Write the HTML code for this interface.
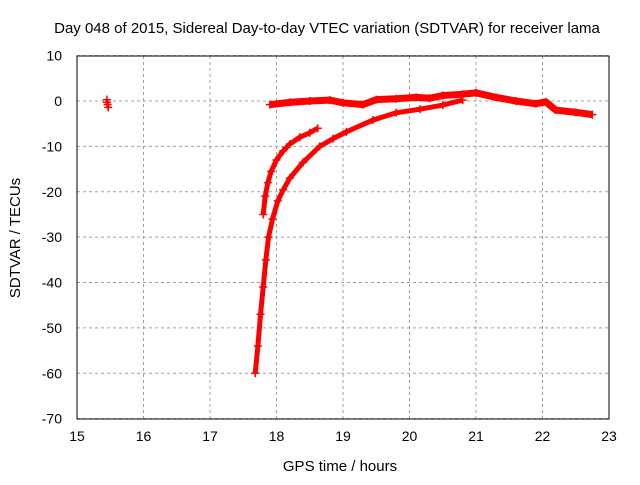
<!DOCTYPE html>
<html><head><meta charset="utf-8"><style>
body{margin:0;background:#fff}
svg{font-family:"Liberation Sans",sans-serif}
</style></head><body>
<svg id="chart" width="640" height="480" xmlns="http://www.w3.org/2000/svg">
<rect width="640" height="480" fill="#fff"/>
<text x="327" y="33" font-size="15" text-anchor="middle">Day 048 of 2015, Sidereal Day-to-day VTEC variation (SDTVAR) for receiver lama</text>
<text x="340" y="471" font-size="15" text-anchor="middle">GPS time / hours</text>
<text transform="translate(20,238) rotate(-90)" font-size="15" text-anchor="middle">SDTVAR / TECUs</text>
<g id="grid"></g><g id="ticks"></g><g id="marks"></g>
<rect x="77" y="56" width="532" height="363" fill="none" stroke="#000" stroke-width="1"/>
</svg>
<script>
const xTicks=[15,16,17,18,19,20,21,22,23];
const yTicks=[10,0,-10,-20,-30,-40,-50,-60,-70];
const trackAx=[17.8,17.83,17.87,17.92,18.0,18.1,18.2,18.35,18.5,18.62];
const trackAy=[-25,-21,-18,-15.5,-13,-11,-9.5,-8,-7,-6];
const trackBx=[17.68,17.72,17.76,17.8,17.84,17.88,17.94,18.02,18.1,18.2,18.4,18.65,18.85,19.05,19.45,19.8,20.16,20.5,20.8];
const trackBy=[-60,-54,-47,-41,-35,-30,-26,-22,-19.6,-17,-13.5,-10,-8.3,-6.8,-4.2,-2.6,-1.8,-0.9,0.2];
const trackCx=[17.9,18.2,18.5,18.8,19.0,19.3,19.5,19.8,20.1,20.3,20.5,20.8,21.0,21.3,21.6,21.9,22.05,22.2,22.5,22.75];
const trackCy=[-0.8,-0.3,0,0.2,-0.4,-0.8,0.3,0.5,0.8,0.6,1.2,1.5,1.8,0.8,0,-0.6,-0.2,-2,-2.5,-3];
const trackDx=[15.45,15.45,15.46,15.47];
const trackDy=[0.3,-0.3,-0.8,-1.4];
const X=v=>77+(v-15)*66.5, Y=v=>101-v*4.5375;
const NS='http://www.w3.org/2000/svg';
const mk=(t,a,p)=>{const e=document.createElementNS(NS,t);for(const k in a)e.setAttribute(k,a[k]);p.appendChild(e);return e;};
const g=document.getElementById('grid'),tk=document.getElementById('ticks'),m=document.getElementById('marks');
xTicks.forEach(v=>{
 const l=mk('line',{x1:X(v),x2:X(v),y1:56,y2:419,stroke:'#a0a0a0','stroke-dasharray':'3,3'},g);
 
 
 const t=mk('text',{x:X(v),y:441,'font-size':14,'text-anchor':'middle'},tk);t.textContent=v;
 
 
});
yTicks.forEach(v=>{
 const l=mk('line',{x1:77,x2:609,y1:Y(v),y2:Y(v),stroke:'#a0a0a0','stroke-dasharray':'3,3'},g);
 
 
 const t=mk('text',{x:62,y:Y(v)+5,'font-size':14,'text-anchor':'end'},tk);t.textContent=v;
 
 
});
function track(xs,ys,w,name){
 const pl=mk('polyline',{points:xs.map((x,i)=>X(x)+','+Y(ys[i])).join(' '),fill:'none',stroke:'#f00','stroke-width':w,'stroke-linejoin':'round'},m);
 
 
 xs.forEach((x,i)=>{
  const cx=X(x),cy=Y(ys[i]);
  const p=mk('path',{d:`M${cx-4},${cy}h8M${cx},${cy-4}v8`,stroke:'#f00','stroke-width':1.5},m);
  
  
 });
}
track(trackAx,trackAy,5,'track-a');
track(trackBx,trackBy,5,'track-b');
track(trackCx,trackCy,7,'track-c');
track(trackDx,trackDy,3,'track-d');
</script>
</body></html>
